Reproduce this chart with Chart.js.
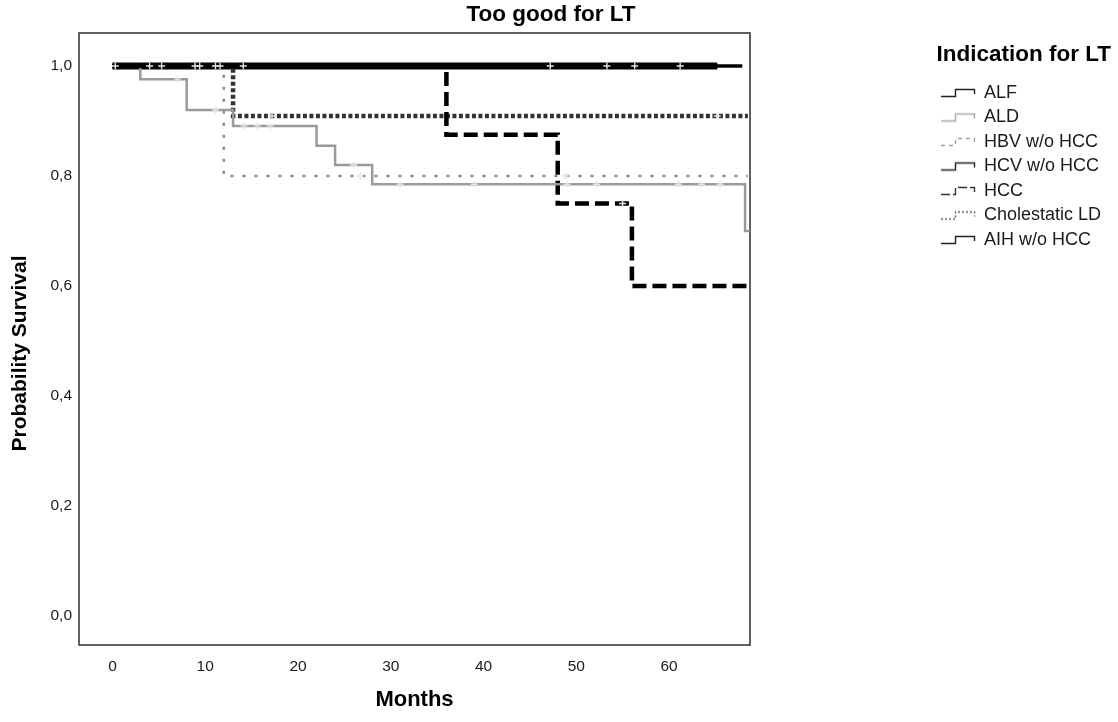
<!DOCTYPE html>
<html>
<head>
<meta charset="utf-8">
<script src="https://cdn.jsdelivr.net/npm/chart.js@4/dist/chart.umd.min.js"></script>
<style>
  html, body { margin: 0; padding: 0; background: #ffffff; }
  #wrap { width: 1118px; height: 722px; }
</style>
</head>
<body>
<div id="wrap"><canvas id="c" width="1118" height="722"></canvas></div>
<script>
// ---------- DATA ----------
const categories = ['ALF', 'ALD', 'HBV w/o HCC', 'HCV w/o HCC', 'HCC', 'Cholestatic LD', 'AIH w/o HCC'];

// Kaplan-Meier step points (months, survival) and censoring times per group
const alfTimes = [0, 65.2];
const alfSurv  = [1, 1];
const alfCensor = [4.0, 8.9, 53.3];

const aldTimes = [0, 3, 8, 13, 22, 24, 28, 68.2, 68.7];
const aldSurv  = [1, 0.976, 0.92, 0.891, 0.855, 0.82, 0.785, 0.70, 0.70];
const aldCensor = [7.0, 11.1, 14.2, 15.6, 17.0, 26.0, 31.0, 39.0, 49.0, 52.2, 61.0, 63.5, 65.5];

const hbvTimes = [0, 12, 68.5];
const hbvSurv  = [1, 0.80, 0.80];
const hbvCensor = [26.7, 48.8];

const hcvTimes = [0, 67.9];
const hcvSurv  = [1, 1];
const hcvCensor = [5.3, 11.1, 47.2, 61.2];

const hccTimes = [0, 36, 48, 56, 68.5];
const hccSurv  = [1, 0.875, 0.75, 0.60, 0.60];
const hccCensor = [55.0];

const cholTimes = [0, 13, 68.5];
const cholSurv  = [1, 0.909, 0.909];
const cholCensor = [17.2, 65.2];

const aihTimes = [0, 65.2];
const aihSurv  = [1, 1];
const aihCensor = [0.3, 9.4, 11.6, 14.1, 56.3];

const xTickLabels = ['0', '10', '20', '30', '40', '50', '60'];
const yTickLabels = ['0,0', '0,2', '0,4', '0,6', '0,8', '1,0'];

// ---------- STYLES ----------
const FONT = 'Arial, "Liberation Sans", Helvetica, sans-serif';
const styles = [
  { color: '#000000', width: 4,   dash: [],        iconColor: '#222222', iconDash: [] },        // ALF
  { color: '#9a9a9a', width: 2.5, dash: [],        iconColor: '#a8a8a8', iconDash: [] },        // ALD
  { color: '#8a8a8a', width: 2.5, dash: [3, 9],    iconColor: '#a0a0a0', iconDash: [4, 4] },    // HBV
  { color: '#000000', width: 3.5, dash: [],        iconColor: '#222222', iconDash: [] },        // HCV
  { color: '#000000', width: 4.5, dash: [14, 6],   iconColor: '#333333', iconDash: [9, 3] },    // HCC
  { color: '#333333', width: 4.5, dash: [4, 2.5],  iconColor: '#555555', iconDash: [2, 2] },    // Cholestatic
  { color: '#000000', width: 7,   dash: [],        iconColor: '#222222', iconDash: [] }         // AIH
];

const groups = [
  [alfTimes, alfSurv, alfCensor],
  [aldTimes, aldSurv, aldCensor],
  [hbvTimes, hbvSurv, hbvCensor],
  [hcvTimes, hcvSurv, hcvCensor],
  [hccTimes, hccSurv, hccCensor],
  [cholTimes, cholSurv, cholCensor],
  [aihTimes, aihSurv, aihCensor]
];

function levelAt(times, surv, t) {
  let s = surv[0];
  for (let i = 0; i < times.length; i++) { if (times[i] <= t) s = surv[i]; }
  return s;
}

// legend step icons
function makeIcon(color, dash) {
  const c = document.createElement('canvas');
  c.width = 38; c.height = 12;
  const g = c.getContext('2d');
  g.strokeStyle = color; g.lineWidth = 1.4; g.setLineDash(dash);
  g.beginPath();
  g.moveTo(1, 9.5); g.lineTo(15.5, 9.5); g.lineTo(15.5, 2.5); g.lineTo(34.5, 2.5); g.lineTo(34.5, 7);
  g.stroke();
  return c;
}
const icons = styles.map(s => makeIcon(s.iconColor, s.iconDash));

// ---------- DATASETS ----------
const datasets = [];
groups.forEach((g, i) => {
  const [T, S] = g;
  datasets.push({
    label: categories[i],
    data: T.map((t, k) => ({ x: t, y: S[k] })),
    borderColor: styles[i].color,
    borderWidth: styles[i].width,
    borderDash: styles[i].dash,
    borderCapStyle: 'butt',
    stepped: 'before',
    pointRadius: 0,
    fill: false,
    order: 10 + i
  });
});
groups.forEach((g, i) => {
  const [T, S, C] = g;
  datasets.push({
    label: categories[i] + ' censored',
    data: C.map(c => ({ x: c, y: levelAt(T, S, c) })),
    showLine: false,
    pointStyle: 'cross',
    pointRadius: 3.5,
    pointBorderWidth: 1.4,
    pointBorderColor: '#e4e4e4',
    pointBackgroundColor: '#e4e4e4',
    order: 0
  });
});

// ---------- PLUGINS ----------
const layoutPlugin = {
  id: 'layoutTweaks',
  beforeInit(chart) {
    const lg = chart.legend;
    const origFit = lg.fit;
    lg.fit = function () { origFit.call(this); this.width = 368; };
  },
  afterLayout(chart) {
    const lg = chart.legend;
    lg.left = 936.5; lg.right = 1117; lg.width = lg.right - lg.left;
    lg.top = 33; lg.bottom = 722; lg.height = lg.bottom - lg.top;
    const tb = chart.titleBlock;
    tb.left = 0; tb.right = 1102; tb.width = 1102;
    const ys = chart.scales.y;
    ys.bottom = ys.bottom + 29; ys.height = ys.bottom - ys.top;
  }
};
const framePlugin = {
  id: 'frame',
  beforeDatasetsDraw(chart) {
    const a = chart.chartArea, ctx = chart.ctx;
    ctx.save();
    ctx.strokeStyle = '#3a3a3a';
    ctx.lineWidth = 1.6;
    ctx.strokeRect(a.left, a.top, a.right - a.left, a.bottom - a.top);
    ctx.restore();
  }
};

new Chart(document.getElementById('c'), {
  type: 'line',
  data: { datasets },
  plugins: [layoutPlugin, framePlugin],
  options: {
    responsive: false,
    animation: false,
    devicePixelRatio: 1,
    layout: { padding: { left: 8, right: 0, top: 0, bottom: 0 } },
    plugins: {
      title: {
        display: true, text: 'Too good for LT', color: '#000',
        font: { family: FONT, size: 22.5, weight: 'bold' },
        padding: { top: 1.5, bottom: 4.5 }
      },
      legend: {
        display: true, position: 'right', align: 'start',
        title: {
          display: true, text: 'Indication for LT', color: '#000', position: 'start',
          font: { family: FONT, size: 22.5, weight: 'bold' },
          padding: { top: 10.75, bottom: 6.75 }
        },
        labels: {
          usePointStyle: true, pointStyleWidth: 32, boxHeight: 12, padding: 6.5,
          color: '#1a1a1a', font: { family: FONT, size: 18 },
          generateLabels() {
            return categories.map((name, i) => ({
              text: name, pointStyle: icons[i], fillStyle: 'rgba(0,0,0,0)',
              strokeStyle: 'rgba(0,0,0,0)', lineWidth: 0, hidden: false,
              datasetIndex: i, fontColor: '#1a1a1a'
            }));
          }
        }
      },
      tooltip: { enabled: false }
    },
    scales: {
      x: {
        type: 'linear', min: -3.61, max: 68.73,
        grid: { display: false, drawTicks: false },
        border: { display: false },
        ticks: {
          stepSize: 10, includeBounds: false, padding: 12, color: '#1a1a1a',
          font: { family: FONT, size: 15.5 },
          callback: (v) => { const i = Math.round(v / 10); return (Math.abs(v - i * 10) < 1e-6 && xTickLabels[i] !== undefined) ? xTickLabels[i] : ''; }
        },
        title: {
          display: true, text: 'Months', color: '#000',
          font: { family: FONT, size: 22, weight: 'bold' },
          padding: { top: 0, bottom: 8.5 }
        },
        afterFit(s) { s.height = 77; }
      },
      y: {
        type: 'linear', min: -0.0526, max: 1.0599,
        grid: { display: false, drawTicks: false },
        border: { display: false },
        ticks: {
          stepSize: 0.2, includeBounds: false, padding: 7, color: '#1a1a1a',
          font: { family: FONT, size: 15.5 },
          callback: (v) => { const i = Math.round(v / 0.2); return (Math.abs(v - i * 0.2) < 1e-6 && yTickLabels[i] !== undefined) ? yTickLabels[i] : ''; }
        },
        title: {
          display: true, text: 'Probability Survival', color: '#000',
          font: { family: FONT, size: 21, weight: 'bold' },
          padding: { top: 0, bottom: 0 }
        },
        afterFit(s) { s.width = 71; }
      }
    }
  }
});
</script>
</body>
</html>
